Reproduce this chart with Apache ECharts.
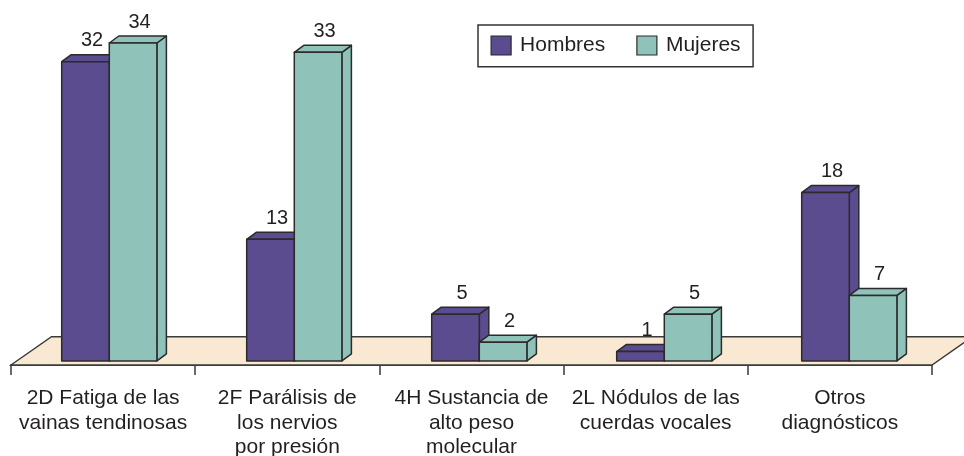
<!DOCTYPE html>
<html>
<head>
<meta charset="utf-8">
<script src="https://cdn.jsdelivr.net/npm/echarts@6/dist/echarts.min.js"></script>
<style>
html,body{margin:0;padding:0;background:#fff;}
#chart{width:964px;height:456px;}
</style>
</head>
<body>
<div id="chart"></div>
<script>
var categories = [
  '2D Fatiga de las\nvainas tendinosas',
  '2F Parálisis de\nlos nervios\npor presión',
  '4H Sustancia de\nalto peso\nmolecular',
  '2L Nódulos de las\ncuerdas vocales',
  'Otros\ndiagnósticos'
];
var seriesNames = ['Hombres', 'Mujeres'];
var hombres = [32, 13, 5, 1, 18];
var mujeres = [34, 33, 2, 5, 7];

var FONT = '"Liberation Sans", Arial, Helvetica, sans-serif';
var TEXT = '#231f20';
var EDGE = '#2b2b2b';
var colors = ['#5b4b8f', '#8fc3ba'];
var DX = 9.5, DY = -7;

function makeBarRender(sIdx) {
  return function (params, api) {
    var cat = api.value(0);
    var val = api.value(1);
    var base = api.coord([cat, 0]);
    var top = api.coord([cat, val]);
    var band = api.size([1, 0])[0];
    var w = band * 0.2573;
    var x0 = base[0] - w + sIdx * w;
    var y0 = base[1];
    var yt = top[1];
    var fill = colors[sIdx];
    var st = { fill: fill, stroke: EDGE, lineWidth: 1.5, lineJoin: 'round' };
    return {
      type: 'group',
      children: [
        { type: 'polygon', shape: { points: [[x0 + w, yt], [x0 + w + DX, yt + DY], [x0 + w + DX, y0 + DY], [x0 + w, y0]] }, style: st },
        { type: 'polygon', shape: { points: [[x0, yt], [x0 + DX, yt + DY], [x0 + w + DX, yt + DY], [x0 + w, yt]] }, style: st },
        { type: 'rect', shape: { x: x0, y: yt, width: w, height: y0 - yt }, style: st },
        { type: 'text', x: x0 + w / 2 + 6.5, y: yt + DY - 4,
          style: { text: String(val), fill: TEXT, font: '20px ' + FONT,
                   align: 'center', verticalAlign: 'bottom', textAlign: 'center', textVerticalAlign: 'bottom' } }
      ]
    };
  };
}

function floorRender(params, api) {
  var cs = params.coordSys;
  var yb = cs.y + cs.height;
  var xl = cs.x, xr = cs.x + cs.width;
  return {
    type: 'polygon',
    shape: { points: [[xl, yb], [xr, yb], [xr + 40.5, yb - 28.3], [xl + 40.5, yb - 28.3]] },
    style: { fill: '#f9e8d2', stroke: '#3a3a3a', lineWidth: 1.4 }
  };
}

var chart = echarts.init(document.getElementById('chart'), null, { renderer: 'canvas' });
chart.setOption({
  animation: false,
  backgroundColor: '#ffffff',
  textStyle: { fontFamily: FONT },
  legend: {
    data: seriesNames,
    left: 478, top: 25,
    padding: [10, 12.5, 10.7, 12.5],
    borderColor: '#333', borderWidth: 1.5,
    itemWidth: 20, itemHeight: 19, itemGap: 31,
    icon: 'rect',
    itemStyle: { borderColor: EDGE, borderWidth: 1.2 },
    textStyle: { fontSize: 21, color: TEXT, fontFamily: FONT, padding: [0, 0, 0, 4] }
  },
  grid: [
    { left: 16.8, right: 22.2, top: 24.3, bottom: 95.1, containLabel: false, outerBoundsMode: 'none' },
    { left: 11, right: 32, top: 24.3, bottom: 91, containLabel: false, outerBoundsMode: 'none' }
  ],
  xAxis: [
    { type: 'category', gridIndex: 0, data: categories, show: false },
    { type: 'category', gridIndex: 1, data: categories,
      axisLine: { show: true, lineStyle: { color: '#444', width: 1.8 } },
      axisTick: { show: true, length: 10, lineStyle: { color: '#444', width: 1.6 } },
      axisLabel: { color: TEXT, fontSize: 21, lineHeight: 24.5, margin: 21, fontFamily: FONT, interval: 0 },
      z: 0 }
  ],
  yAxis: [
    { type: 'value', gridIndex: 0, min: 0, max: 36, show: false, splitLine: { show: false } },
    { type: 'value', gridIndex: 1, min: 0, max: 1, show: false, splitLine: { show: false } }
  ],
  series: [
    { type: 'custom', name: '_floor', xAxisIndex: 1, yAxisIndex: 1, silent: true, z: 1,
      data: [[0, 0]], renderItem: floorRender },
    { type: 'custom', name: seriesNames[0], xAxisIndex: 0, yAxisIndex: 0, z: 3,
      itemStyle: { color: colors[0] },
      data: hombres.map(function (v, i) { return [i, v]; }),
      renderItem: makeBarRender(0) },
    { type: 'custom', name: seriesNames[1], xAxisIndex: 0, yAxisIndex: 0, z: 4,
      itemStyle: { color: colors[1] },
      data: mujeres.map(function (v, i) { return [i, v]; }),
      renderItem: makeBarRender(1) }
  ]
});
</script>
</body>
</html>
